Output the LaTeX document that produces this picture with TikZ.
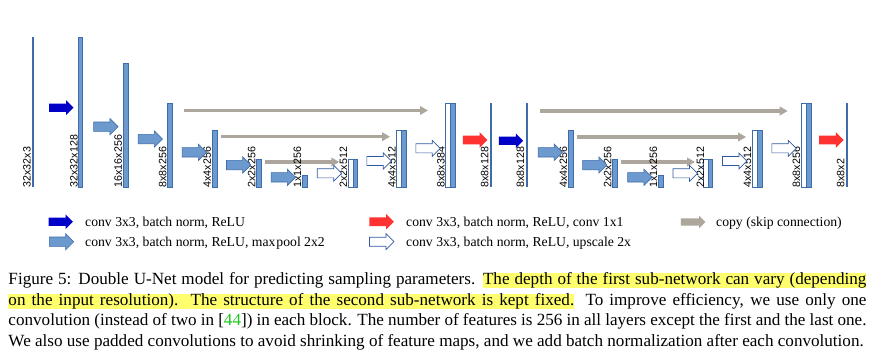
\documentclass[tikz,border=0pt]{standalone}
\usepackage{fontspec}
\setmainfont{Liberation Serif}
\newfontfamily\labfont{Liberation Sans}
\usetikzlibrary{shapes.arrows,arrows.meta}
\definecolor{barblue}{RGB}{108,153,206}
\definecolor{barline}{RGB}{62,108,170}
\definecolor{darkblue}{RGB}{0,0,200}
\definecolor{redarrow}{RGB}{255,50,50}
\definecolor{skipgray}{RGB}{172,166,156}
\definecolor{upline}{RGB}{50,90,160}
\definecolor{hly}{RGB}{255,255,110}
\definecolor{citegreen}{RGB}{30,200,30}
\newsavebox\hlbox
\newcommand\hw[1]{\sbox\hlbox{#1}\rlap{\color{hly}\rule[-3.9pt]{\wd\hlbox}{15.4pt}}\usebox\hlbox}
\newcommand\hs{{\color{hly}\leaders\vrule height 11.5pt depth 3.9pt\hskip\fontdimen2\font plus\fontdimen3\font minus\fontdimen4\font}}
\newcommand\hsS{{\color{hly}\leaders\vrule height 11.5pt depth 3.9pt\hskip 2\fontdimen2\font plus 2\fontdimen3\font minus\fontdimen4\font}}
\tikzset{
 blkarr/.style={single arrow, inner xsep=0pt, single arrow head indent=0pt, outer sep=0pt, minimum height=24.4pt},
 convarr/.style={blkarr, fill=darkblue, draw=none, inner ysep=3.9pt, single arrow head extend=3.2pt},
 poolarr/.style={blkarr, fill=barblue, draw=barline, line width=0.6pt, inner ysep=4.4pt, single arrow head extend=3.5pt},
 uparr/.style={blkarr, fill=white, draw=upline, line width=0.7pt, inner ysep=4.2pt, single arrow head extend=3.4pt},
 outarr/.style={blkarr, fill=redarrow, draw=none, inner ysep=4.1pt, single arrow head extend=3.4pt},
 legskiparr/.style={blkarr, fill=skipgray, draw=none, inner ysep=3.4pt, single arrow head extend=2.5pt},
 skiparr/.style={draw=skipgray, line width=3.3pt, -{Triangle[length=8pt,width=8.5pt]}},
 barbox/.style={rectangle, anchor=north west, fill=barblue, draw=barline, line width=0.6pt, inner sep=0pt, outer sep=0pt},
 wbarbox/.style={barbox, fill=white},
 tbarbox/.style={barbox, fill=barline, draw=none, minimum width=2pt},
 labtext/.style={rotate=90, anchor=base west, inner sep=0pt, font=\labfont\fontsize{10.7}{12}\selectfont},
 legtext/.style={anchor=base west, inner sep=0pt, font=\fontsize{13.7}{16}\selectfont},
 captext/.style={anchor=base west, inner sep=0pt, font=\fontsize{17.1}{20.7}\selectfont},
}
\begin{document}
\begin{tikzpicture}[x=1pt,y=-1pt]
\path[use as bounding box, fill=white] (0,0) rectangle (879,361);
% skip connections
\coordinate (s1a) at (184,110.5); \coordinate (s1b) at (428,110.5);
\coordinate (s2a) at (220.7,136.7); \coordinate (s2b) at (390,136.7);
\coordinate (s3a) at (264.7,162); \coordinate (s3b) at (339.3,162);
\coordinate (s4a) at (540,111); \coordinate (s4b) at (787.7,111);
\coordinate (s5a) at (576.7,137); \coordinate (s5b) at (746,137);
\coordinate (s6a) at (621,162); \coordinate (s6b) at (695,162);
\foreach \s in {1,...,6} \draw[skiparr] (s\s a) -- (s\s b);
% bars
\node[tbarbox, minimum height=150pt] (b1) at (31.7,37) {};
\node[barbox, minimum width=4pt, minimum height=150pt] (b2) at (78.7,37) {};
\node[barbox, minimum width=5pt, minimum height=124pt] (b3) at (123.3,63) {};
\node[barbox, minimum width=5pt, minimum height=84pt] (b4) at (167.3,103) {};
\node[barbox, minimum width=5pt, minimum height=57pt] (b5) at (212.3,130) {};
\node[barbox, minimum width=5pt, minimum height=27.5pt] (b6) at (256.7,159.5) {};
\node[barbox, minimum width=5pt, minimum height=11.5pt] (b7) at (302.7,175.5) {};
\node[wbarbox, minimum width=4.5pt, minimum height=27.5pt] (b8w) at (348.3,159.5) {};
\node[barbox, minimum width=4.5pt, minimum height=27.5pt] (b8) at (352.8,159.5) {};
\node[wbarbox, minimum width=5pt, minimum height=57pt] (b9w) at (396.7,130) {};
\node[barbox, minimum width=5pt, minimum height=57pt] (b9) at (401.7,130) {};
\node[wbarbox, minimum width=5pt, minimum height=84pt] (b10w) at (445.7,103) {};
\node[barbox, minimum width=5pt, minimum height=84pt] (b10) at (450.7,103) {};
\node[tbarbox, minimum height=84pt] (b11) at (489.7,103) {};
\node[tbarbox, minimum height=84pt] (b12) at (526,103) {};
\node[barbox, minimum width=5pt, minimum height=57pt] (b13) at (568.3,130) {};
\node[barbox, minimum width=5pt, minimum height=27.5pt] (b14) at (612.7,159.5) {};
\node[barbox, minimum width=5pt, minimum height=11.5pt] (b15) at (658.3,175.5) {};
\node[wbarbox, minimum width=4.6pt, minimum height=27.5pt] (b16w) at (703.5,159.5) {};
\node[barbox, minimum width=4.6pt, minimum height=27.5pt] (b16) at (708.1,159.5) {};
\node[wbarbox, minimum width=5pt, minimum height=57pt] (b17w) at (752.3,130) {};
\node[barbox, minimum width=5pt, minimum height=57pt] (b17) at (757.3,130) {};
\node[wbarbox, minimum width=5pt, minimum height=84pt] (b18w) at (801.7,103) {};
\node[barbox, minimum width=5pt, minimum height=84pt] (b18) at (806.7,103) {};
\node[tbarbox, minimum height=84pt] (b19) at (845.7,103) {};
% labels
\node[labtext] (l1) at (30.6,187.5) {32x32x3};
\node[labtext] (l2) at (77.6,187.5) {32x32x128};
\node[labtext] (l3) at (121.8,187.5) {16x16x256};
\node[labtext] (l4) at (166.3,187.5) {8x8x256};
\node[labtext] (l5) at (210.8,187.5) {4x4x256};
\node[labtext] (l6) at (255.3,187.5) {2x2x256};
\node[labtext] (l7) at (301.2,187.5) {1x1x256};
\node[labtext] (l8) at (347.2,187.5) {2x2x512};
\node[labtext] (l9) at (395.5,187.5) {4x4x512};
\node[labtext] (l10) at (444.5,187.5) {8x8x384};
\node[labtext] (l11) at (488.3,187.5) {8x8x128};
\node[labtext] (l12) at (524.2,187.5) {8x8x128};
\node[labtext] (l13) at (567.2,187.5) {4x4x256};
\node[labtext] (l14) at (611.3,187.5) {2x2x256};
\node[labtext] (l15) at (657.2,187.5) {1x1x256};
\node[labtext] (l16) at (704.2,187.5) {2x2x512};
\node[labtext] (l17) at (751.2,187.5) {4x4x512};
\node[labtext] (l18) at (800.2,187.5) {8x8x256};
\node[labtext] (l19) at (844.3,187.5) {8x8x2};
% block arrows
\node[convarr] (a1) at (59.2,107.7) {};
\node[poolarr] (a2) at (103.5,126.7) {};
\node[poolarr] (a3) at (148,139) {};
\node[poolarr] (a4) at (192,152.3) {};
\node[poolarr] (a5) at (236.3,165) {};
\node[poolarr] (a6) at (281,177.3) {};
\node[uparr] (u1) at (327.2,173.3) {};
\node[uparr] (u2) at (376.8,161) {};
\node[uparr] (u3) at (425.8,148.3) {};
\node[outarr] (r1) at (472.9,140) {};
\node[convarr] (a7) at (508.9,140.7) {};
\node[poolarr] (a8) at (547.9,152.3) {};
\node[poolarr] (a9) at (592.5,165) {};
\node[poolarr] (a10) at (637.5,177.3) {};
\node[uparr] (u4) at (683,173.3) {};
\node[uparr] (u5) at (732.5,161) {};
\node[uparr] (u6) at (781.8,148.3) {};
\node[outarr] (r2) at (829.2,140) {};
% legend
\node[convarr] (g1) at (58.7,221.7) {};
\node[legtext] (t1) at (85,226.3) {conv 3x3, batch norm, ReLU};
\node[poolarr] (g2) at (59.2,241.7) {};
\node[legtext] (t2) at (85,246.3) {conv 3x3, batch norm, ReLU, max\kern1pt pool 2x2};
\node[outarr] (g3) at (379.5,221.7) {};
\node[legtext] (t3) at (406,226.3) {conv 3x3, batch norm, ReLU, conv 1x1};
\node[uparr] (g4) at (379.5,241.7) {};
\node[legtext] (t4) at (406,246.3) {conv 3x3, batch norm, ReLU, upscale 2x};
\node[legskiparr] (g5) at (691.3,222) {};
\node[legtext] (t5) at (716,226.3) {copy (skip connection)};
% caption
\node[captext] (c1) at (8.3,284.5) {\hbox to 858pt{Figure 5: Double U-Net model for predicting sampling parameters. \hw{The}\hs\hw{depth}\hs\hw{of}\hs\hw{the}\hs\hw{first}\hs\hw{sub-network}\hs\hw{can}\hs\hw{vary}\hs\hw{(depending}}};
\node[captext] (c2) at (8.3,305.2) {\hbox to 858pt{\hw{on}\hs\hw{the}\hs\hw{input}\hs\hw{resolution).}\hsS\hw{The}\hs\hw{structure}\hs\hw{of}\hs\hw{the}\hs\hw{second}\hs\hw{sub-network}\hs\hw{is}\hs\hw{kept}\hs\hw{fixed.}\spacefactor3000{} To improve efficiency, we use only one}};
\node[captext] (c3) at (8.3,325.9) {\hbox to 858pt{convolution (instead of two in [{\color{citegreen}44}]) in each block. The number of features is 256 in all layers except the first and the last one.}};
\node[captext] (c4) at (8.3,346.6) {\hbox{We also use padded convolutions to avoid shrinking of feature maps, and we add batch normalization after each convolution.}};
\end{tikzpicture}
\end{document}
